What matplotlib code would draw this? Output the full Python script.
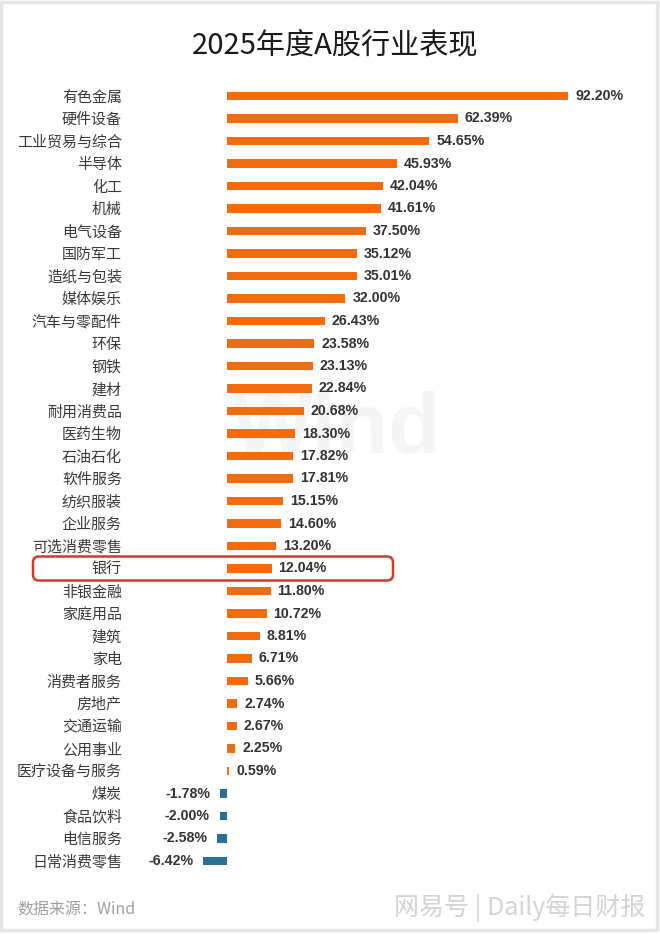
import matplotlib
matplotlib.use("Agg")
import matplotlib.pyplot as plt
from matplotlib.patches import FancyBboxPatch, Rectangle
from matplotlib.transforms import IdentityTransform

plt.rcParams['font.family'] = ['Noto Sans CJK SC', 'DejaVu Sans']

title = "2025年度A股行业表现"
categories = ["有色金属", "硬件设备", "工业贸易与综合", "半导体", "化工", "机械", "电气设备",
              "国防军工", "造纸与包装", "媒体娱乐", "汽车与零配件", "环保", "钢铁", "建材",
              "耐用消费品", "医药生物", "石油石化", "软件服务", "纺织服装", "企业服务",
              "可选消费零售", "银行", "非银金融", "家庭用品", "建筑", "家电", "消费者服务",
              "房地产", "交通运输", "公用事业", "医疗设备与服务", "煤炭", "食品饮料",
              "电信服务", "日常消费零售"]
values = [92.20, 62.39, 54.65, 45.93, 42.04, 41.61, 37.50, 35.12, 35.01, 32.00, 26.43,
          23.58, 23.13, 22.84, 20.68, 18.30, 17.82, 17.81, 15.15, 14.60, 13.20, 12.04,
          11.80, 10.72, 8.81, 6.71, 5.66, 2.74, 2.67, 2.25, 0.59, -1.78, -2.00, -2.58, -6.42]
highlight = "银行"
source_text = "数据来源：Wind"
watermark = "网易号 | Daily每日财报"
bg_mark = "Wind"

POS = "#F26C0E"
NEG = "#2A6F97"

W, H, DPI = 660, 934, 100
fig = plt.figure(figsize=(W / DPI, H / DPI), dpi=DPI)
fig.patch.set_facecolor("white")

ax_left, ax_right = 190, 640
ax_top, ax_bot = 84.75, 872.25
ax = fig.add_axes([ax_left / W, (H - ax_bot) / H, (ax_right - ax_left) / W, (ax_bot - ax_top) / H])
ax.set_facecolor("none")

n = len(categories)
ypos = list(range(n))
colors = [POS if v >= 0 else NEG for v in values]
ax.barh(ypos, values, height=0.37, color=colors, zorder=3)
ax.set_xlim(-10.0, 111.6)
ax.set_ylim(n - 0.5, -0.5)

ax.set_yticks(ypos)
ax.set_yticklabels(categories, fontsize=10.8, color="#3a3a3a")
ax.tick_params(axis="y", length=0, pad=49)
ax.set_xticks([])
for s in ax.spines.values():
    s.set_visible(False)

for y, v in zip(ypos, values):
    label = f"{v:.2f}%"
    if v >= 0:
        ax.annotate(label, (v, y), xytext=(5, 0), textcoords="offset points",
                    ha="left", va="center", fontsize=10.2, fontweight="bold",
                    color="#333333", family=["Liberation Sans", "DejaVu Sans"], zorder=4)
    else:
        ax.annotate(label, (v, y), xytext=(-7, 0), textcoords="offset points",
                    ha="right", va="center", fontsize=10.2, fontweight="bold",
                    color="#333333", family=["Liberation Sans", "DejaVu Sans"], zorder=4)

# faint Wind watermark behind the bars
ax.text(0.327, 0.56, bg_mark, transform=ax.transAxes, fontsize=62, fontweight="bold",
        color="#f5f5f5", ha="center", va="center",
        family=["Liberation Sans", "DejaVu Sans"], zorder=0)

fig.text(335 / W, 1 - 45 / H, title, fontsize=21, ha="center", va="center", color="#1a1a1a")

fig.text(17 / W, 1 - 910 / H, source_text, fontsize=11.5, ha="left", va="center", color="#a0a0a0")
fig.text(645 / W, 1 - 908 / H, watermark, fontsize=18, ha="right", va="center", color="#d4d4d4")

# highlight box around the 银行 row
fig.canvas.draw()
hi = categories.index(highlight)
_, yc = ax.transData.transform((0, hi))
box = FancyBboxPatch((33, yc - 12), 360, 24, boxstyle="round,pad=0,rounding_size=6",
                     transform=IdentityTransform(), fill=False, edgecolor="#C63E2C",
                     linewidth=1.8, zorder=5)
fig.add_artist(box)

# light frame around the picture
frame = Rectangle((0.002, 0.004), 0.994, 0.994, transform=fig.transFigure, fill=False,
                  edgecolor="#e6e6e6", linewidth=2.5)
fig.add_artist(frame)

fig.savefig("out.png", dpi=DPI, facecolor="white")
